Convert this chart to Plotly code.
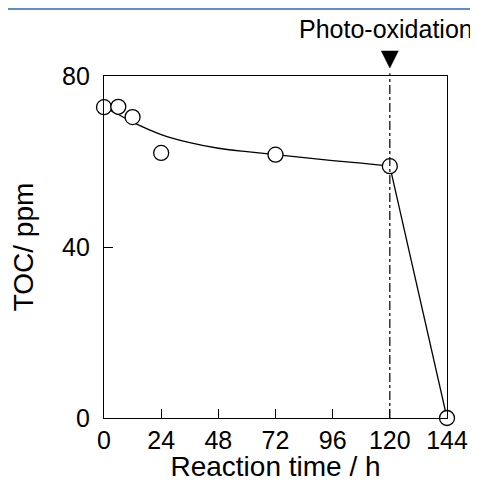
import plotly.graph_objects as go

# Measured TOC values
time_h = [0, 6, 12, 24, 72, 120, 144]
toc_ppm = [72.7, 72.8, 70.4, 62.0, 61.6, 58.9, 0.0]

# Fitted trend line, then the drop after photo-oxidation
curve_t = [0, 6, 12, 24, 36, 48, 60, 72, 84, 96, 108, 120]
curve_toc = [72.7, 71.0, 69.2, 66.3, 64.4, 63.1, 62.3, 61.6, 60.9, 60.2, 59.6, 58.9]
drop_t = [120, 144]
drop_toc = [58.9, 0.0]

# Photo-oxidation start marker
photo_t = 120
photo_label = "Photo-oxidation"

x_ticks = [0, 24, 48, 72, 96, 120, 144]
y_ticks = [0, 40, 80]

FONT = "Liberation Sans, Arial, sans-serif"

fig = go.Figure()

fig.add_trace(go.Scatter(
    x=curve_t, y=curve_toc, mode="lines",
    line=dict(color="black", width=1.3, shape="spline", smoothing=0.8),
    hoverinfo="skip", showlegend=False, cliponaxis=False,
))
fig.add_trace(go.Scatter(
    x=drop_t, y=drop_toc, mode="lines",
    line=dict(color="black", width=1.3),
    hoverinfo="skip", showlegend=False, cliponaxis=False,
))

fig.add_trace(go.Scatter(
    x=time_h, y=toc_ppm, mode="markers",
    marker=dict(symbol="circle", size=15, color="white",
                line=dict(color="black", width=1.3)),
    showlegend=False, cliponaxis=False,
))

# dash-dot line at photo-oxidation start
fig.add_shape(type="line", xref="x", yref="paper",
              x0=photo_t, x1=photo_t, y0=0, y1=1.008,
              line=dict(color="black", width=1.2, dash="dashdot"))

# filled down-pointing triangle above the plot at photo-oxidation start
fig.add_shape(type="path", xref="x", yref="paper",
              xsizemode="pixel", xanchor=photo_t,
              ysizemode="pixel", yanchor=1,
              path="M -8.5 25 L 8.5 25 L 0 8 Z",
              fillcolor="black", line=dict(color="black", width=0.5))

# blue rule along the top edge
fig.add_shape(type="rect", xref="paper", yref="paper",
              x0=-1, x1=2, yanchor=1, ysizemode="pixel", y0=66, y1=69,
              line=dict(width=0), fillcolor="#5b8bd0")

fig.add_annotation(x=photo_t, xref="x", xshift=-4,
                   y=1.0, yref="paper", yshift=47, yanchor="middle",
                   text=photo_label, showarrow=False,
                   font=dict(family=FONT, size=25, color="black"))

axis_common = dict(
    showgrid=False, zeroline=False, showline=True, linecolor="black",
    linewidth=1.3, mirror=True, ticks="inside", tickcolor="black",
    tickwidth=1.3, ticklen=9, automargin=False,
    tickfont=dict(family=FONT, size=25, color="black"),
)

fig.update_xaxes(
    range=[0, 144], tickvals=x_ticks, ticktext=[str(v) for v in x_ticks],
    title=dict(text="Reaction time / h", font=dict(family=FONT, size=28, color="black"), standoff=6),
    ticklabelstandoff=0,
    **axis_common,
)
fig.update_yaxes(
    range=[0, 80], tickvals=y_ticks, ticktext=[str(v) for v in y_ticks],
    title=dict(text="TOC/ ppm", font=dict(family=FONT, size=28, color="black"), standoff=21),
    ticklabelstandoff=8,
    **axis_common,
)

# the page adds an 8 px body margin, so the figure is sized to fit the window
fig.update_layout(
    width=470, height=474,
    margin=dict(l=96, r=31, t=68, b=64, autoexpand=False),
    paper_bgcolor="white", plot_bgcolor="white",
    font=dict(family=FONT, color="black"),
)

fig.write_html("out.html")
